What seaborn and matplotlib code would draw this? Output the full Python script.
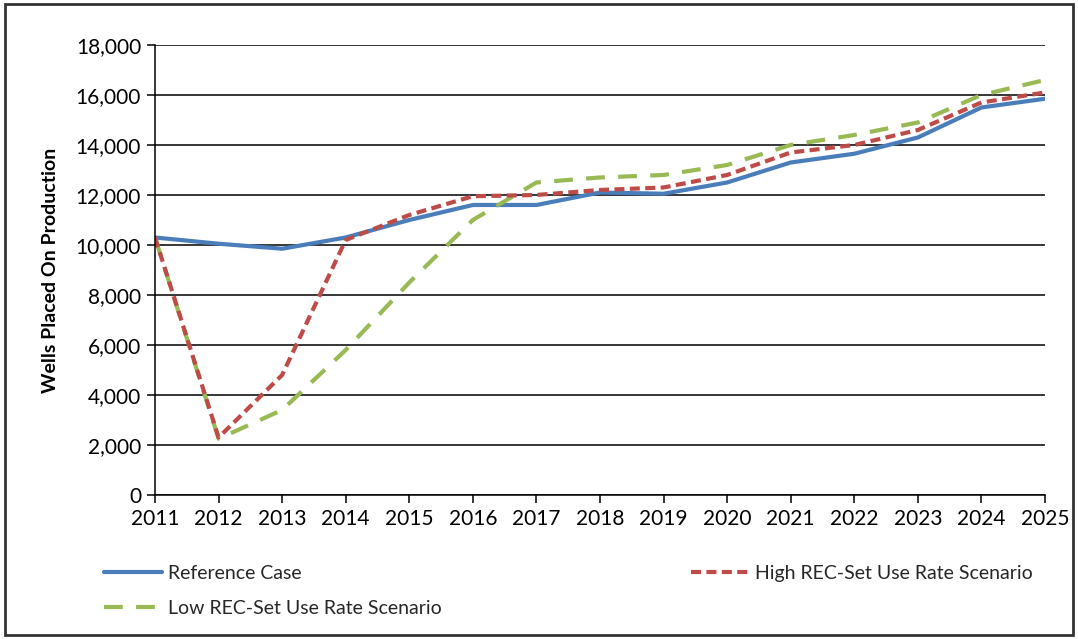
import matplotlib
matplotlib.use("Agg")
import matplotlib.pyplot as plt
import seaborn as sns
import pandas as pd
from matplotlib.patches import Rectangle
from matplotlib.ticker import FuncFormatter, MultipleLocator

years = list(range(2011, 2026))
reference_case = [10300, 10050, 9850, 10300, 11000, 11600, 11600, 12100, 12050,
                  12500, 13300, 13650, 14300, 15500, 15850]
high_rec = [10300, 2300, 4800, 10200, 11200, 11950, 12000, 12200, 12300,
            12800, 13700, 14000, 14600, 15700, 16100]
low_rec = [10300, 2250, 3400, 5800, 8500, 11000, 12500, 12700, 12800,
           13200, 14000, 14400, 14900, 16000, 16600]

series_names = ["Reference Case", "Low REC-Set Use Rate Scenario",
                "High REC-Set Use Rate Scenario"]

df = pd.DataFrame({
    "Year": years * 3,
    "Wells": reference_case + low_rec + high_rec,
    "Scenario": [n for n in series_names for _ in years],
})

sns.set_theme(style="white")
plt.rcParams["font.family"] = ["Lato", "DejaVu Sans"]

fig = plt.figure(figsize=(10.78, 6.39), dpi=100)
ax = fig.add_axes([0.1438, 0.2254, 0.8256, 0.7042])

palette = {
    "Reference Case": "#4A7EBB",
    "High REC-Set Use Rate Scenario": "#BE4B48",
    "Low REC-Set Use Rate Scenario": "#98B954",
}
dashes = {
    "Reference Case": "",
    "High REC-Set Use Rate Scenario": (2.4, 1.3),
    "Low REC-Set Use Rate Scenario": (4.5, 3.2),
}
sns.lineplot(data=df, x="Year", y="Wells", hue="Scenario", style="Scenario",
             palette=palette, dashes=dashes, linewidth=3, ax=ax,
             hue_order=series_names, style_order=series_names)

ax.set_xlim(2011, 2025)
ax.set_ylim(0, 18000)
ax.yaxis.set_major_locator(MultipleLocator(2000))
ax.set_xticks(years)
ax.yaxis.set_major_formatter(FuncFormatter(lambda v, p: f"{int(v):,}"))
ax.grid(axis="y", color="black", linewidth=1.1)
ax.grid(axis="x", visible=False)
for s in ["top", "right"]:
    ax.spines[s].set_visible(False)
for s in ["left", "bottom"]:
    ax.spines[s].set_color("black")
    ax.spines[s].set_linewidth(1.1)
ax.tick_params(axis="both", which="major", direction="out", length=6,
               width=1.1, color="black", labelsize=15, labelcolor="black",
               left=True, bottom=True, pad=4)
ax.set_xlabel("")
ax.set_ylabel("Wells Placed On Production", fontsize=14, fontweight="bold",
              color="black", labelpad=12)

handles, labels = ax.get_legend_handles_labels()
ax.get_legend().remove()
fig.legend(handles, labels, loc="upper left", bbox_to_anchor=(0.08, 0.143),
           ncol=2, frameon=False, fontsize=14, handlelength=3.0,
           handletextpad=0.3, columnspacing=12.8, labelspacing=0.9)

fig.patches.append(Rectangle((0.005, 0.006), 0.99, 0.988, transform=fig.transFigure,
                             fill=False, edgecolor="#333333", linewidth=2))

fig.savefig("out.png", dpi=100)
